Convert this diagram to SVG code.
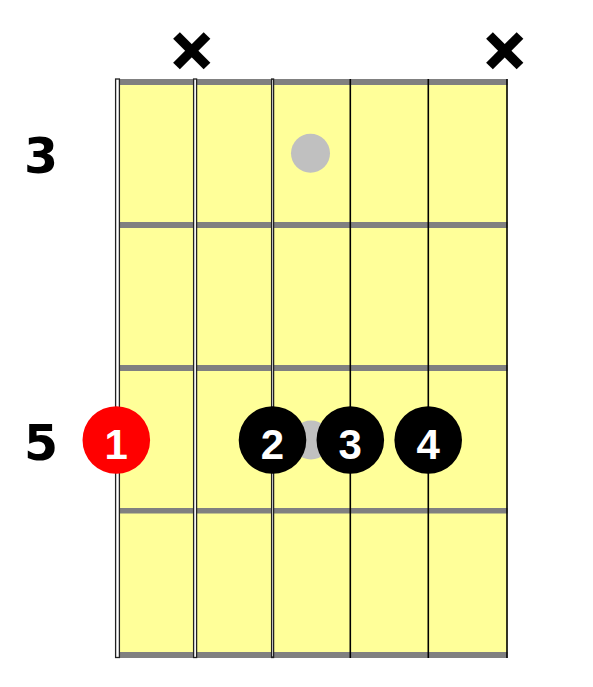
<svg xmlns="http://www.w3.org/2000/svg" width="593" height="687" viewBox="0 0 593 687">
<style>
.fret{fill:#808080}
.thick{fill:#fff;stroke:#222;stroke-width:1.3}
.str{stroke:#000;stroke-width:1.6}
.mute{stroke:#000;stroke-width:9.5;stroke-linecap:butt}
.lbl{font-family:"DejaVu Sans",Verdana,sans-serif;font-weight:bold;font-size:49px;fill:#000;text-anchor:middle}
.fn{font-family:"Liberation Sans",Arial,sans-serif;font-weight:bold;font-size:42px;fill:#fff;text-anchor:middle}
.ghost{fill:#c0c0c0}
</style>
<rect width="593" height="687" fill="#fff"/>
<g id="board">
<rect x="117" y="82" width="390.5" height="572" fill="#ffff99"/>
<rect class="fret" x="117" y="79" width="390.5" height="6"/>
<rect class="fret" x="117" y="222" width="390.5" height="6"/>
<rect class="fret" x="117" y="365" width="390.5" height="6"/>
<rect class="fret" x="117" y="508" width="390.5" height="5.5"/>
<rect class="fret" x="117" y="652" width="390.5" height="6"/>
</g>
<g id="strings">
<rect class="thick" x="115.6" y="79" width="3.8" height="578.5"/>
<rect class="thick" x="193.6" y="79" width="3" height="578.5"/>
<rect class="thick" x="271.6" y="79" width="2" height="578.5"/>
<line class="str" x1="350.3" y1="79" x2="350.3" y2="658"/>
<line class="str" x1="428.3" y1="79" x2="428.3" y2="658"/>
<line class="str" x1="507" y1="79" x2="507" y2="658"/>
</g>
<g id="mute-1">
<line class="mute" x1="176.5" y1="35.5" x2="207" y2="66"/>
<line class="mute" x1="207" y1="35.5" x2="176.5" y2="66"/>
</g>
<g id="mute-6">
<line class="mute" x1="489.5" y1="35.5" x2="520" y2="66"/>
<line class="mute" x1="520" y1="35.5" x2="489.5" y2="66"/>
</g>
<g id="fret-labels">
<text class="lbl" x="41" y="173">3</text>
<text class="lbl" x="41" y="460">5</text>
</g>
<g id="ghost-1"><circle class="ghost" cx="310.5" cy="153.3" r="19.5"/></g>
<g id="ghost-2"><circle class="ghost" cx="311" cy="440" r="19.5"/></g>
<g id="finger-1">
<circle cx="116.3" cy="440" r="33.8" fill="#ff0000"/>
<text class="fn" x="116.3" y="458.5">1</text>
</g>
<g id="finger-2">
<circle cx="272.5" cy="440" r="33.8" fill="#000"/>
<text class="fn" x="272.5" y="458.5">2</text>
</g>
<g id="finger-3">
<circle cx="350.3" cy="440" r="33.8" fill="#000"/>
<text class="fn" x="350.3" y="458.5">3</text>
</g>
<g id="finger-4">
<circle cx="428.2" cy="440" r="33.8" fill="#000"/>
<text class="fn" x="428.2" y="458.5">4</text>
</g>
</svg>
